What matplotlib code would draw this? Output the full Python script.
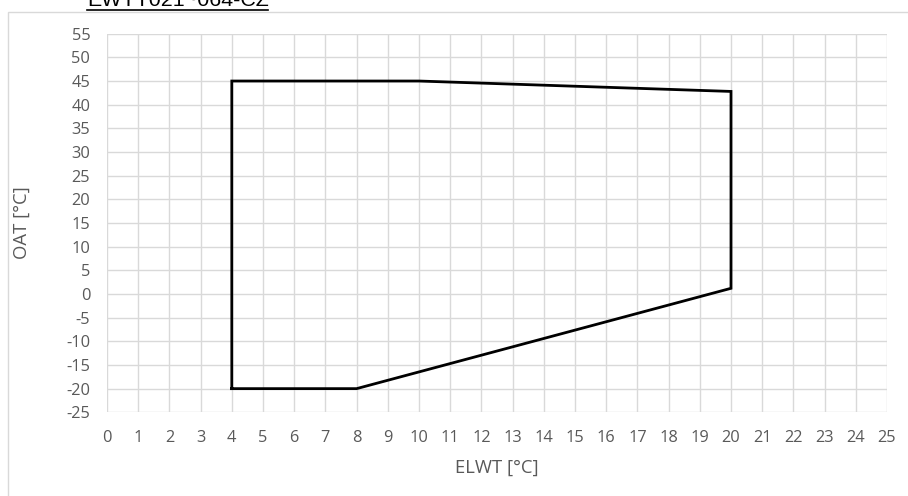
import matplotlib
matplotlib.use("Agg")
import matplotlib.pyplot as plt
from matplotlib.patches import Rectangle
from matplotlib.lines import Line2D

plt.rcParams["axes.unicode_minus"] = False

# Data: operating envelope (ELWT vs OAT)
elwt = [4, 4, 10, 20, 20, 8, 4]
oat = [-20, 45, 45, 42.8, 1.2, -20, -20]
x_ticks = list(range(0, 26, 1))
y_ticks = list(range(-25, 56, 5))
title = "EWYT021~064-CZ"
x_label = "ELWT [°C]"
y_label = "OAT [°C]"

W, H = 908, 496
fig = plt.figure(figsize=(W / 100, H / 100), dpi=100)
fig.patch.set_facecolor("white")

# chart border (cropped on right and bottom)
fig.patches.append(Rectangle((8 / W, -0.1), 1.2, 1.1 - 12 / H,
                             transform=fig.transFigure, fill=False,
                             edgecolor="#d9d9d9", linewidth=1.0))

ax = fig.add_axes([107 / W, 83.7 / H, 780 / W, 378.6 / H])
ax.plot(elwt, oat, color="black", linewidth=2.0, solid_joinstyle="miter", zorder=3)
ax.set_xlim(0, 25)
ax.set_ylim(-25, 55)
ax.set_xticks(x_ticks)
ax.set_yticks(y_ticks)
ax.grid(True, color="#d9d9d9", linewidth=1.0)
ax.set_axisbelow(True)
for s in ax.spines.values():
    s.set_visible(False)
ax.tick_params(length=0, labelsize=11.8, labelcolor="#595959")
ax.tick_params(axis="x", pad=13)
ax.tick_params(axis="y", pad=12)
for lab in ax.get_xticklabels() + ax.get_yticklabels():
    lab.set_fontfamily("Open Sans")

fig.text(497 / W, 1 - 468 / H, x_label, ha="center", va="center",
         fontsize=13.3, color="#595959", family="Open Sans")
fig.text(22 / W, 1 - 223 / H, y_label, ha="center", va="center",
         rotation=90, fontsize=13.3, color="#595959", family="Open Sans")

fig.text(87 / W, 1 - 6 / H, title, ha="left", va="baseline",
         fontsize=15.4, color="black", family="Liberation Sans")
fig.lines.append(Line2D([87 / W, 268 / W], [1 - 9.5 / H, 1 - 9.5 / H],
                        transform=fig.transFigure, color="black", linewidth=1.2))

fig.savefig("out.png", dpi=100, facecolor="white")
